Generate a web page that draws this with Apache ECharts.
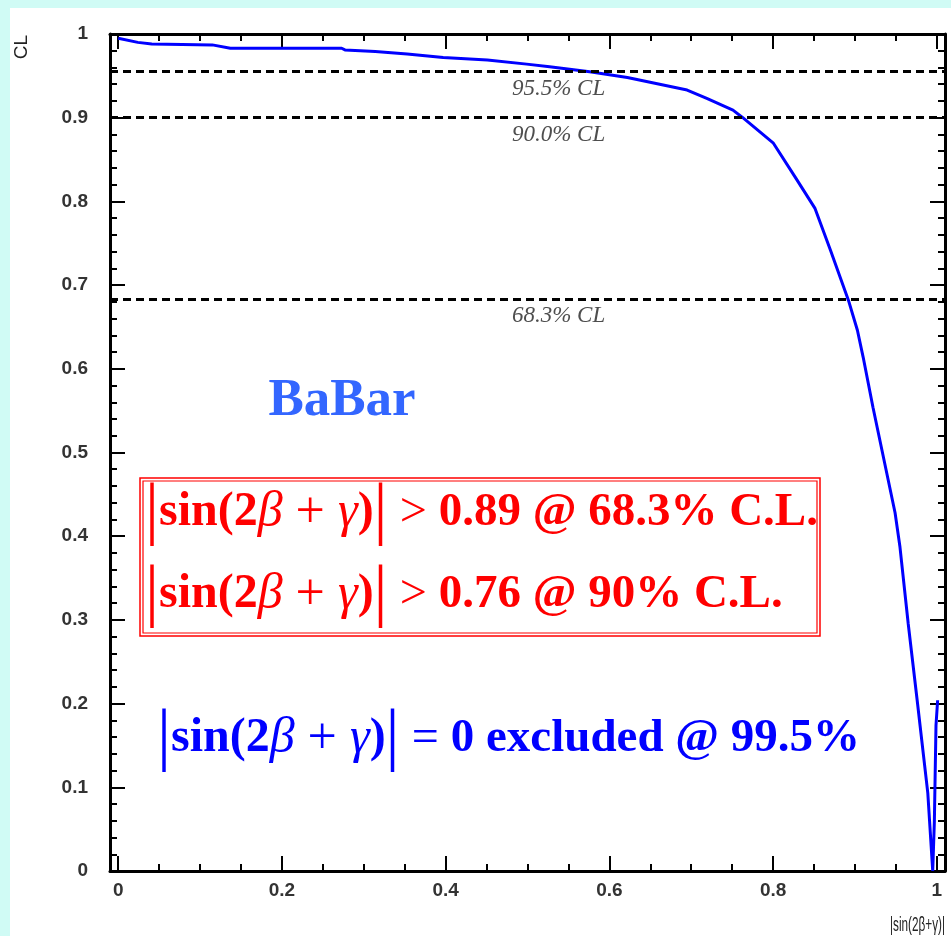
<!DOCTYPE html>
<html>
<head>
<meta charset="utf-8">
<script src="https://cdn.jsdelivr.net/npm/echarts@6/dist/echarts.min.js"></script>
<style>
  html, body { margin: 0; padding: 0; background: #fff; }
  #main { width: 951px; height: 936px; }
</style>
</head>
<body>
<div id="main"></div>
<script>
// CL curve
let curveX = [0, 0.024, 0.041, 0.115, 0.137, 0.273, 0.277, 0.314, 0.353, 0.375, 0.397,
    0.451, 0.499, 0.527, 0.576, 0.622, 0.695, 0.719, 0.751, 0.763, 0.800,
    0.827, 0.851, 0.870, 0.892, 0.903, 0.910, 0.922, 0.949, 0.955, 0.965,
    0.976, 0.989, 0.995, 0.997, 0.999, 1.001];
let curveCL = [0.995, 0.990, 0.988, 0.987, 0.983, 0.983, 0.981, 0.979, 0.976, 0.974, 0.972,
    0.969, 0.964, 0.961, 0.955, 0.948, 0.933, 0.923, 0.909, 0.900, 0.870,
    0.829, 0.792, 0.742, 0.682, 0.646, 0.614, 0.554, 0.428, 0.387, 0.296,
    0.204, 0.093, 0.0, 0.059, 0.174, 0.204];

let clLevels = [0.955, 0.9, 0.683];
let clLabels = ['95.5% CL', '90.0% CL', '68.3% CL'];

let xMajorTicks = [0, 0.2, 0.4, 0.6, 0.8, 1];
let xMinorTicks = [0.05, 0.1, 0.15, 0.25, 0.3, 0.35, 0.45, 0.5, 0.55, 0.65, 0.7, 0.75, 0.85, 0.9, 0.95];

const serif = 'Liberation Serif';
const sans = 'Liberation Sans';

function xAxisDef(pos, ticks, len, withLine, withLabel) {
    return {
        type: 'value', position: pos, min: -0.01, max: 1.01,
        splitLine: { show: false },
        axisLine: { show: withLine, onZero: false, lineStyle: { color: '#000', width: 3 } },
        axisTick: { show: true, inside: true, length: len, customValues: ticks,
            lineStyle: { color: '#000', width: 2 } },
        axisLabel: { show: withLabel, customValues: ticks, margin: 10,
            fontFamily: sans, fontSize: 19, fontWeight: 'bold', color: '#333' }
    };
}

function yAxisDef(pos, withLabel) {
    return {
        type: 'value', position: pos, min: 0, max: 1, interval: 0.1,
        splitLine: { show: false },
        axisLine: { show: true, onZero: false, lineStyle: { color: '#000', width: 3 } },
        axisTick: { show: true, inside: true, length: 15, lineStyle: { color: '#000', width: 2 } },
        minorTick: { show: true, splitNumber: 5, length: 7, lineStyle: { color: '#000', width: 2 } },
        axisLabel: { show: withLabel, margin: 22, fontFamily: sans, fontSize: 19,
            fontWeight: 'bold', color: '#333' }
    };
}

function formula(color, tail, x, y) {
    return {
        type: 'text', x: x, y: y, silent: true,
        style: {
            text: '{bar||}{t|sin(2}{g|β}{pl| + }{g|γ}{t|)}{bar||}' + tail,
            textAlign: 'left', align: 'left',
            textVerticalAlign: 'middle', verticalAlign: 'middle',
            rich: {
                bar: { fontFamily: serif, fontSize: 70, fill: color },
                t: { fontFamily: serif, fontSize: 48, fontWeight: 'bold', fill: color },
                g: { fontFamily: serif, fontSize: 50, fontStyle: 'italic', fill: color },
                pl: { fontFamily: serif, fontSize: 52, fill: color },
                op: { fontFamily: serif, fontSize: 48, fill: color },
                r: { fontFamily: serif, fontSize: 47, fontWeight: 'bold', fill: color }
            }
        }
    };
}

let curveData = curveX.map((x, i) => [x, curveCL[i]]);

const option = {
    backgroundColor: '#d0fbf5',
    animation: false,
    grid: { left: 110, right: 6, top: 34, bottom: 65 },
    xAxis: [
        xAxisDef('bottom', xMajorTicks, 15, true, true),
        xAxisDef('bottom', xMinorTicks, 7, false, false),
        xAxisDef('top', xMajorTicks, 15, true, false),
        xAxisDef('top', xMinorTicks, 7, false, false)
    ],
    yAxis: [
        yAxisDef('left', true),
        yAxisDef('right', false)
    ],
    series: [{
        type: 'line',
        data: curveData,
        symbol: 'none',
        z: 3,
        lineStyle: { color: '#0000ff', width: 3 },
        markLine: {
            silent: true,
            symbol: 'none',
            precision: 3,
            label: { show: false },
            lineStyle: { color: '#000', width: 3, type: [8, 5] },
            data: clLevels.map(v => ({ yAxis: v }))
        }
    }, {
        type: 'scatter',
        data: clLevels.map((v, i) => [0.538, v, clLabels[i]]),
        symbolSize: 1,
        itemStyle: { color: 'rgba(0,0,0,0)' },
        label: {
            show: true, position: 'bottom', distance: 5,
            formatter: p => p.data[2],
            fontFamily: serif, fontStyle: 'italic', fontSize: 23, color: '#222'
        }
    }],
    graphic: [
        { type: 'rect', z: -10, silent: true, shape: { x: 10, y: 8, width: 941, height: 928 },
          style: { fill: '#fff' } },
        { type: 'text', x: 22, y: 35, rotation: Math.PI / 2, silent: true,
          style: { text: 'CL', fontFamily: sans, fontSize: 19, fill: '#222',
                   textAlign: 'right', align: 'right', textVerticalAlign: 'middle', verticalAlign: 'middle' } },
        { type: 'text', x: 945, y: 925, scaleX: 0.56, silent: true,
          style: { text: '|sin(2β+γ)|', fontFamily: sans, fontSize: 21, fill: '#222',
                   textAlign: 'right', align: 'right', textVerticalAlign: 'middle', verticalAlign: 'middle' } },
        { type: 'text', x: 342, y: 401, silent: true,
          style: { text: 'BaBar', fontFamily: serif, fontSize: 53, fontWeight: 'bold', fill: '#3366ff',
                   textAlign: 'center', align: 'center', textVerticalAlign: 'middle', verticalAlign: 'middle' } },
        { type: 'rect', silent: true, shape: { x: 140, y: 478, width: 680, height: 158 },
          style: { fill: 'none', stroke: '#ff0000', lineWidth: 1.5 } },
        { type: 'rect', silent: true, shape: { x: 143, y: 481, width: 674, height: 152 },
          style: { fill: 'none', stroke: '#ff0000', lineWidth: 1.2 } },
        formula('#ff0000', '{op| > }{r|0.89 @ 68.3% C.L.}', 145, 513),
        formula('#ff0000', '{op| > }{r|0.76 @ 90% C.L.}', 145, 595),
        formula('#0000ff', '{op| = }{r|0 excluded @ 99.5%}', 157, 739)
    ]
};

let plot = echarts.init(document.querySelector('#main'));
plot.setOption(option);
</script>
</body>
</html>
